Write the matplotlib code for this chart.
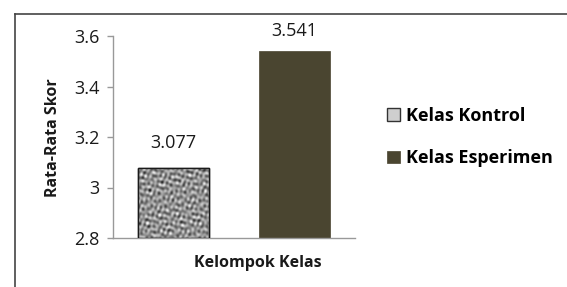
import numpy as np
import matplotlib
matplotlib.use("Agg")
import matplotlib.pyplot as plt
from matplotlib.lines import Line2D
from matplotlib.patches import Rectangle

# ---- data ----
series = ["Kelas Kontrol", "Kelas Esperimen"]
values = [3.077, 3.541]
value_labels = ["3.077", "3.541"]
yticks = [2.8, 3.0, 3.2, 3.4, 3.6]
ytick_labels = ["2.8", "3", "3.2", "3.4", "3.6"]
xlabel = "Kelompok Kelas"
ylabel = "Rata-Rata Skor"

FONT = ["Open Sans", "DejaVu Sans"]
plt.rcParams["font.family"] = FONT

W, H = 567, 287
fig = plt.figure(figsize=(W / 100, H / 100), dpi=100)
fig.patch.set_facecolor("white")

# outer frame (only top and left visible)
fx, fy = 15 / W, 1 - 14 / H
fig.add_artist(Line2D([fx, 1.0], [fy, fy], transform=fig.transFigure, color="#444444", lw=1.2))
fig.add_artist(Line2D([fx, fx], [fy, 0.0], transform=fig.transFigure, color="#444444", lw=1.2))

ax = fig.add_axes([113 / W, 1 - 238 / H, (355 - 113) / W, (238 - 36) / H])
ax.set_facecolor("none")

x = np.arange(len(values))
colors = ["#b0b0b0", "#4a4530"]
bars = ax.bar(x, [v - 2.8 for v in values], bottom=2.8, width=0.58,
              color=colors, edgecolor=["#1a1a1a", "#4a4530"], linewidth=[1.0, 0.5],
              zorder=2)

# mottled texture on the first bar (deterministic interference pattern)
gx, gy = np.meshgrid(np.linspace(0, 1, 140), np.linspace(0, 1, 140))
tex = np.zeros_like(gx)
dirs = [(0.13, 1.0), (1.0, 0.31), (0.7, -0.71), (-0.45, 0.89), (0.92, 0.39),
        (0.25, -0.97), (-0.83, -0.56), (0.57, 0.82), (0.99, -0.12), (-0.2, 0.98)]
freqs = [71, 83, 97, 64, 109, 77, 91, 58, 101, 87]
phases = [0.3, 1.7, 2.9, 4.1, 5.3, 0.9, 2.2, 3.6, 4.8, 6.0]
for (dx, dy), f, p in zip(dirs, freqs, phases):
    tex += np.sin(f * (dx * gx + dy * gy) + p)
b0 = bars[0]
im = ax.imshow(tex, cmap="gray", vmin=-8.0, vmax=6.0, aspect="auto", interpolation="bicubic",
               extent=[b0.get_x(), b0.get_x() + b0.get_width(), b0.get_y(), b0.get_y() + b0.get_height()],
               zorder=2.5)
im.set_clip_path(b0)
ax.add_patch(Rectangle((b0.get_x(), b0.get_y()), b0.get_width(), b0.get_height(),
                       fill=False, edgecolor="#1a1a1a", lw=1.0, zorder=3))

ax.set_xlim(-0.5, 1.5)
ax.set_ylim(2.8, 3.6)
ax.set_yticks(yticks)
ax.set_yticklabels(ytick_labels, fontsize=13, color="#1a1a1a")
ax.set_xticks([])
for s in ["top", "right"]:
    ax.spines[s].set_visible(False)
for s in ["left", "bottom"]:
    ax.spines[s].set_color("#999999")
    ax.spines[s].set_linewidth(1.0)
ax.tick_params(axis="y", length=4.5, width=1.0, color="#999999", pad=5)

offsets = [18, 14]
for xi, v, lab, off in zip(x, values, value_labels, offsets):
    ax.annotate(lab, (xi, v), xytext=(0, off), textcoords="offset points",
                ha="center", va="center", fontsize=13, color="#1a1a1a")

fig.text(258 / W, 1 - 263 / H, xlabel, ha="center", va="center", fontsize=11.5,
         fontweight="bold", color="#1a1a1a")
fig.text(53 / W, 1 - 138 / H, ylabel, ha="center", va="center", rotation=90,
         fontsize=11.5, fontweight="bold", color="#1a1a1a")

# legend
h1 = Rectangle((0, 0), 1, 1, facecolor="#cfcfcf", edgecolor="#333333", lw=1.0)
h2 = Rectangle((0, 0), 1, 1, facecolor="#4a4530", edgecolor="#4a4530", lw=0.5)
leg = fig.legend([h1, h2], series, loc="center left", bbox_to_anchor=(387 / W, 1 - 137 / H),
                 frameon=False, prop={"family": FONT, "weight": "bold", "size": 13},
                 handlelength=0.7, handleheight=0.7, handletextpad=0.35,
                 labelspacing=1.35, borderaxespad=0, borderpad=0)

fig.savefig("out.png", dpi=100)
